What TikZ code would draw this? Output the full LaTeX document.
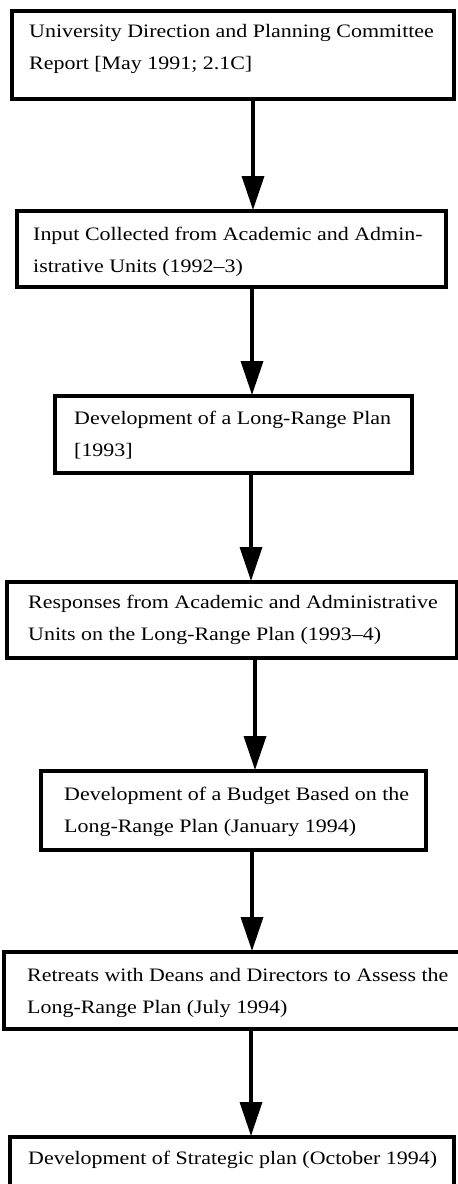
\documentclass[tikz,border=0pt]{standalone}
\usepackage{fontspec}
\setmainfont[FakeStretch=1.155]{Liberation Serif}
\usetikzlibrary{arrows.meta}
\begin{document}
\begin{tikzpicture}[x=1pt,y=-1pt,
  boxnode/.style={draw=black, line width=4pt, fill=white, rectangle, inner sep=0pt},
  txt/.style={anchor=west, align=left, inner sep=0pt, font=\fontsize{19}{32}\selectfont},
  arr/.style={line width=3.5pt, -{Triangle[length=34pt,width=22pt]}, shorten >=-1pt}]
\useasboundingbox (0,0) rectangle (458,1184);
% boxes
\node[boxnode, minimum width=442pt, minimum height=88pt] (b1) at (233,55) {};
\node[boxnode, minimum width=429pt, minimum height=76pt] (b2) at (231.5,249) {};
\node[boxnode, minimum width=357pt, minimum height=77pt] (b3) at (233.5,434.5) {};
\node[boxnode, minimum width=450pt, minimum height=76pt] (b4) at (232,620) {};
\node[boxnode, minimum width=385pt, minimum height=79pt] (b5) at (233.5,810.5) {};
\node[boxnode, minimum width=458pt, minimum height=77pt] (b6) at (233,990.5) {};
\node[boxnode, minimum width=444pt, minimum height=60pt] (b7) at (232,1167) {};
% texts
\node[txt] (t1) at (29,48.5) {University Direction and Planning Committee\\Report [May 1991; 2.1C]};
\node[txt] (t2) at (33,251.5) {Input Collected from Academic and Admin-\\istrative Units (1992--3)};
\node[txt] (t3) at (74,435.5) {Development of a Long-Range Plan\\{[1993]}};
\node[txt] (t4) at (28,619.5) {Responses from Academic and Administrative\\Units on the Long-Range Plan (1993--4)};
\node[txt] (t5) at (64,811.5) {Development of a Budget Based on the\\Long-Range Plan (January 1994)};
\node[txt] (t6) at (27,993) {Retreats with Deans and Directors to Assess the\\Long-Range Plan (July 1994)};
\node[txt] (t7) at (28,1160) {Development of Strategic plan (October 1994)};
% arrows
\draw[arr] (b1.south -| 253,0) -- (b2.north -| 253,0);
\draw[arr] (b2.south -| 252,0) -- (b3.north -| 252,0);
\draw[arr] (b3.south -| 251,0) -- (b4.north -| 251,0);
\draw[arr] (b4.south -| 255,0) -- (b5.north -| 255,0);
\draw[arr] (b5.south -| 252,0) -- (b6.north -| 252,0);
\draw[arr] (b6.south -| 251,0) -- (b7.north -| 251,0);
\end{tikzpicture}
\end{document}
